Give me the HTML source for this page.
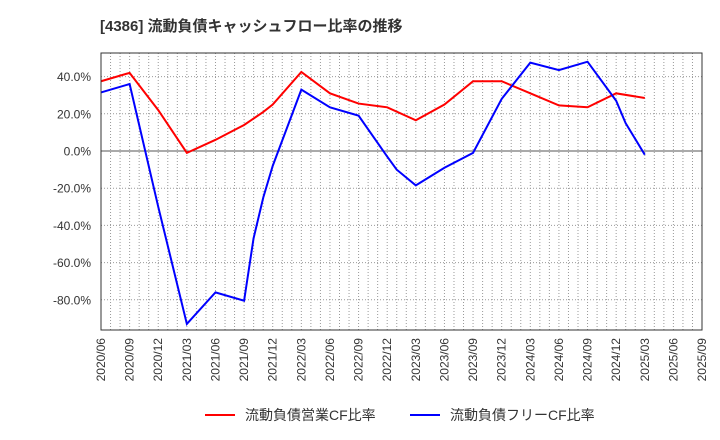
<!DOCTYPE html>
<html><head><meta charset="utf-8"><style>
body{margin:0;background:#fff;}
svg{display:block;font-family:"Liberation Sans","Noto Sans CJK JP",sans-serif;}
</style></head><body>
<svg id="s" width="720" height="440" xmlns="http://www.w3.org/2000/svg">
<text x="100" y="31" font-size="15" font-weight="bold" fill="#333">[4386]  流動負債キャッシュフロー比率の推移</text>
<g id="g"></g>
<rect x="101" y="53" width="601" height="277" fill="none" stroke="#333" stroke-width="1"/>
<line x1="205" y1="415" x2="235" y2="415" stroke="#f00" stroke-width="2"/>
<text x="245" y="420" font-size="14" fill="#333">流動負債営業CF比率</text>
<line x1="410" y1="415" x2="440" y2="415" stroke="#00f" stroke-width="2"/>
<text x="450" y="420" font-size="14" fill="#333">流動負債フリーCF比率</text>
</svg>
<script>
var g=document.getElementById('g'),h='';
var X=function(q){return 101+q*28.62},Y=function(v){return 151-v*1.86};
for(var m=1;m<63;m++){var x=101+m*28.62/3;h+='<line x1="'+x+'" y1="53" x2="'+x+'" y2="330" stroke="#999" stroke-width="1" stroke-dasharray="1,2"/>';}
for(var v=-80;v<=40;v+=20){var y=Y(v);h+='<line x1="101" y1="'+y+'" x2="702" y2="'+y+'" stroke="'+(v==0?'#555':'#999')+'" stroke-width="1" '+(v==0?'':'stroke-dasharray="1,2"')+'/>';
h+='<text x="91" y="'+(y+4.5)+'" font-size="12" fill="#333" text-anchor="end">'+v.toFixed(1)+'%</text>';}
for(var q=0;q<=21;q++){var yr=2020+Math.floor((q+1)/4),mo=[6,9,12,3][q%4];var x=X(q)+4;
h+='<text transform="translate('+x+',338) rotate(-90)" font-size="12" fill="#333" text-anchor="end">'+yr+'/'+(mo<10?'0':'')+mo+'</text>';}
var red=[[0,37.5],[1,42],[2,22],[3,-1],[4,6],[5,14],[5.67,21],[6,25],[7,42.5],[8,31],[9,25.5],[10,23.5],[11,16.5],[12,25],[13,37.5],[14,37.5],[15,31],[16,24.5],[17,23.5],[18,31],[19,28.5]];
var blue=[[0,31.5],[1,36],[2,-30],[3,-93],[4,-76],[5,-80.5],[5.33,-47],[5.67,-25],[6,-8],[7,33],[8,23.5],[9,19],[10,-3],[10.33,-10],[11,-18.5],[12,-9],[13,-1],[14,28],[15,47.5],[16,43.5],[17,48],[18,27],[18.33,15],[19,-2]];
function pl(d,c){return '<polyline fill="none" stroke="'+c+'" stroke-width="2" points="'+d.map(function(p){return X(p[0])+','+Y(p[1])}).join(' ')+'"/>';}
h+=pl(red,'#f00')+pl(blue,'#00f');
g.innerHTML=h;
</script>
</body></html>
